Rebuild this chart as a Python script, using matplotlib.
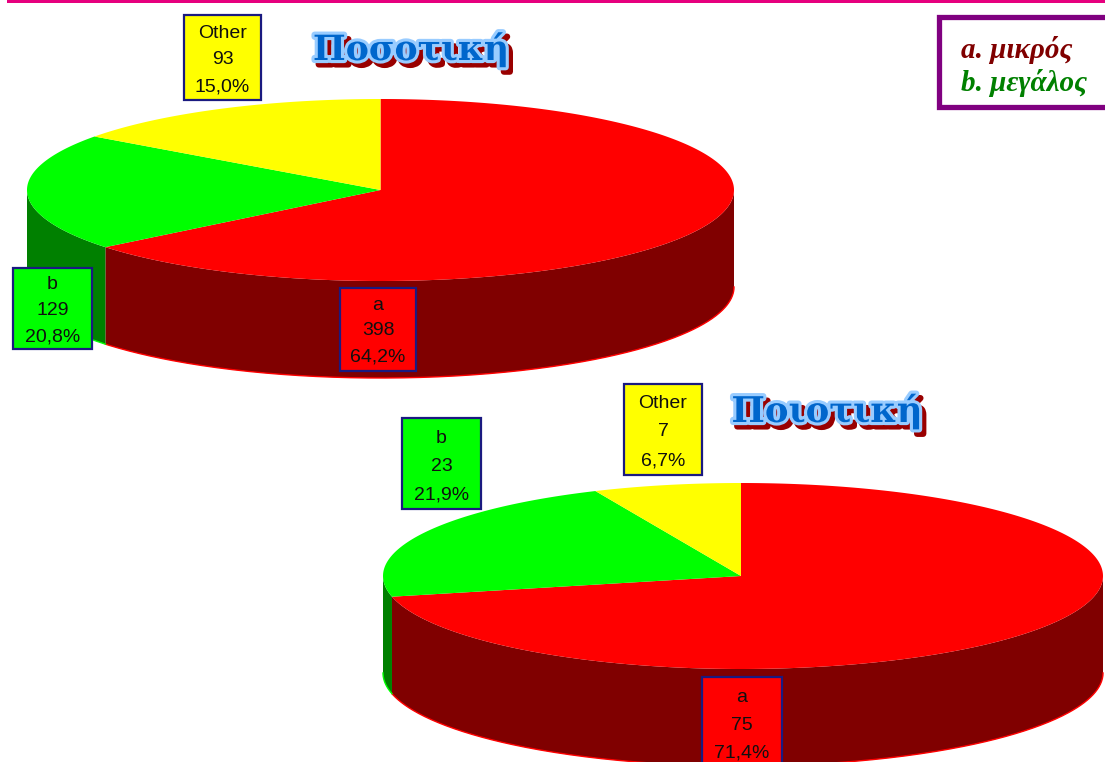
import numpy as np
import matplotlib
matplotlib.use("Agg")
import matplotlib.pyplot as plt
import matplotlib.patheffects as pe
from matplotlib.patches import Rectangle

names = ["a", "b", "Other"]
posotiki = [398, 129, 93]
poiotiki = [75, 23, 7]
pct_posotiki = ["64,2%", "20,8%", "15,0%"]
pct_poiotiki = ["71,4%", "21,9%", "6,7%"]

top_colors = ["#ff0000", "#00ff00", "#ffff00"]
side_colors = ["#800000", "#008000", "#808000"]
DEPTH = 97

fig = plt.figure(figsize=(11.05, 7.62), dpi=100)
ax = fig.add_axes([0, 0, 1, 1])
ax.set_xlim(0, 1105)
ax.set_ylim(762, 0)
ax.axis("off")


def arc(cx, cy, rx_r, rx_l, ry, t0, t1):
    # angles in degrees, clockwise from 12 o'clock
    t = np.radians(np.linspace(t0, t1, 300))
    s = np.sin(t)
    return cx + np.where(s > 0, rx_r, rx_l) * s, cy - ry * np.cos(t)


def pie3d(values, cx, cy, rx_r, rx_l, ry):
    edges = np.concatenate([[0], np.cumsum(values)]) / sum(values) * 360
    # side walls, only the front half (90-270) can be seen
    for i in range(len(values)):
        t0 = max(edges[i], 90)
        t1 = min(edges[i + 1], 270)
        if t1 <= t0:
            continue
        x, y = arc(cx, cy, rx_r, rx_l, ry, t0, t1)
        xs = np.concatenate([x, x[::-1]])
        ys = np.concatenate([y, y[::-1] + DEPTH])
        ax.fill(xs, ys, color=side_colors[i], lw=0, zorder=2)
        ax.plot(x, y + DEPTH, color=top_colors[i], lw=1, zorder=2)
    # top face
    for i in range(len(values)):
        x, y = arc(cx, cy, rx_r, rx_l, ry, edges[i], edges[i + 1])
        ax.fill(np.r_[cx, x], np.r_[cy, y], color=top_colors[i], lw=0, zorder=3)


def label_box(x0, y0, x1, y1, lines, ys, color):
    ax.add_patch(Rectangle((x0, y0), x1 - x0, y1 - y0, fc=color, ec="#1a1a80", lw=1.6, zorder=5))
    for s, y in zip(lines, ys):
        ax.text((x0 + x1) / 2, y + 1.5, s, ha="center", va="center", fontsize=14,
                family="Liberation Sans", color="#101010", zorder=6)


def wordart(x, y, s, size):
    # dark red shadow down-right, light blue outline, blue fill
    ax.text(x, y, s, ha="center", va="center", fontsize=size, family="DejaVu Serif",
            weight="bold", color="#0066cc", zorder=8,
            path_effects=[pe.Stroke(linewidth=4.5, foreground="#990000", offset=(3, -3.2)),
                          pe.Stroke(linewidth=4.5, foreground="#99ccff"),
                          pe.Normal()])


# pink line at the top
ax.add_patch(Rectangle((7, 0), 1098, 3, fc="#e6007e", lw=0))

pie3d(posotiki, 380.5, 190, 353.5, 353.5, 91)
pie3d(poiotiki, 741, 576, 362, 358, 93)

label_box(184, 15, 261, 100, ["Other", str(posotiki[2]), pct_posotiki[2]], [32, 58, 85], top_colors[2])
label_box(13, 268, 92, 349, ["b", str(posotiki[1]), pct_posotiki[1]], [283, 309, 335], top_colors[1])
label_box(340, 288, 416, 371, ["a", str(posotiki[0]), pct_posotiki[0]], [304, 329, 355], top_colors[0])

label_box(624, 384, 702, 475, ["Other", str(poiotiki[2]), pct_poiotiki[2]], [402, 430, 459], top_colors[2])
label_box(402, 418, 481, 509, ["b", str(poiotiki[1]), pct_poiotiki[1]], [437, 465, 494], top_colors[1])
label_box(702, 677, 782, 775, ["a", str(poiotiki[0]), pct_poiotiki[0]], [696, 724, 752], top_colors[0])

wordart(411, 49, "Ποσοτική", 25)
wordart(827, 411, "Ποιοτική", 25.5)

# key in the corner
ax.add_patch(Rectangle((939, 17), 180, 90, fc="white", ec="#800080", lw=3.8, zorder=4))
ax.text(961, 50, "a. μικρός", fontsize=21, family="Liberation Serif", style="italic", weight="bold",
        color="#800000", va="center", zorder=5)
ax.text(961, 83, "b. μεγάλος", fontsize=21, family="Liberation Serif", style="italic", weight="bold",
        color="#008000", va="center", zorder=5)

fig.savefig("out.png", dpi=100)
